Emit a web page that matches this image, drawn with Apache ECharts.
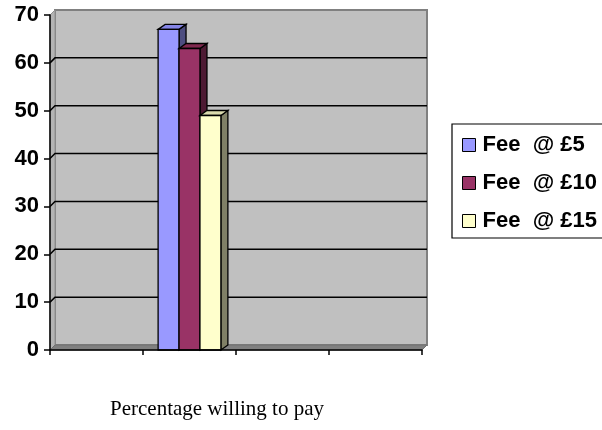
<!DOCTYPE html>
<html><head><meta charset="utf-8">
<script src="https://cdn.jsdelivr.net/npm/echarts@6/dist/echarts.min.js"></script>
<style>html,body{margin:0;padding:0;background:#fff}#c{width:602px;height:430px}</style>
</head><body><div id="c"></div>
<script>
const categories = ['', '', '', ''];
const seriesNames = ['Fee  @ £5', 'Fee  @ £10', 'Fee  @ £15'];
const fee5 = [null, 67, null, null];
const fee10 = [null, 63, null, null];
const fee15 = [null, 49, null, null];
const yTicks = [0, 10, 20, 30, 40, 50, 60, 70];
const axisTitle = 'Percentage willing to pay';

const colors = [
  {front: '#9999FF', top: '#8585E6', side: '#4D4D80'},
  {front: '#993366', top: '#80294F', side: '#4D1A33'},
  {front: '#FFFFCC', top: '#DADAAE', side: '#808066'}
];
const DX = 5, DY = -5;

function toPairs(arr) {
  const out = [];
  arr.forEach((v, i) => { if (v != null) out.push([i, v]); });
  return out;
}

function barRenderer(k) {
  const col = colors[k];
  return function (params, api) {
    const cat = api.value(0), v = api.value(1);
    const c = api.coord([cat, v]);
    const b = api.coord([cat, 0]);
    const bw = api.size([1, 0])[0] * 0.225;
    const x = c[0] + (k - 1.5) * bw;
    const dx = 7, dy = -5;
    const yT = c[1], yB = b[1];
    const st = {stroke: '#000', lineWidth: 1.3};
    return {type: 'group', children: [
      {type: 'polygon', shape: {points: [[x + bw, yT], [x + bw + dx, yT + dy], [x + bw + dx, yB + dy], [x + bw, yB]]}, style: Object.assign({fill: col.side}, st)},
      {type: 'polygon', shape: {points: [[x, yT], [x + dx, yT + dy], [x + bw + dx, yT + dy], [x + bw, yT]]}, style: Object.assign({fill: col.top}, st)},
      {type: 'rect', shape: {x: x, y: yT, width: bw, height: yB - yT}, style: Object.assign({fill: col.front}, st)}
    ]};
  };
}

function wallRenderer(params, api) {
  const cs = params.coordSys;
  const x0 = cs.x, y0 = cs.y, w = cs.width, h = cs.height;
  const children = [];
  children.push({type: 'rect', shape: {x: x0 + DX, y: y0 + DY, width: w, height: h}, style: {fill: '#C0C0C0', stroke: '#808080', lineWidth: 2}});
  children.push({type: 'polygon', shape: {points: [[x0, y0], [x0 + DX, y0 + DY], [x0 + DX, y0 + h + DY], [x0, y0 + h]]}, style: {fill: '#B4B4B4', stroke: '#909090', lineWidth: 1}});
  children.push({type: 'polygon', shape: {points: [[x0, y0 + h], [x0 + DX, y0 + h + DY], [x0 + w + DX, y0 + h + DY], [x0 + w, y0 + h]]}, style: {fill: '#808080', stroke: '#707070', lineWidth: 1}});
  yTicks.forEach(t => {
    if (t === yTicks[0] || t === yTicks[yTicks.length - 1]) return;
    const y = api.coord([0, t])[1];
    children.push({type: 'polyline', shape: {points: [[x0, y], [x0 + DX, y + DY], [x0 + w + DX, y + DY]]}, style: {stroke: '#000', lineWidth: 1.5, fill: null}});
  });
  return {type: 'group', children: children};
}

const chart = echarts.init(document.getElementById('c'), null, {renderer: 'canvas'});
const feeData = [fee5, fee10, fee15];
chart.setOption({
  animation: false,
  backgroundColor: '#fff',
  title: {
    text: axisTitle, left: 110, top: 399, padding: 0,
    textStyle: {fontFamily: 'Liberation Serif', fontWeight: 'normal', fontSize: 21, color: '#000'}
  },
  legend: {
    data: seriesNames, orient: 'vertical', left: 452, top: 124,
    padding: [9, 20, 5, 10], itemGap: 14, itemWidth: 13, itemHeight: 13, icon: 'rect',
    borderColor: '#000', borderWidth: 1.2,
    itemStyle: {borderColor: '#000', borderWidth: 1},
    textStyle: {fontFamily: 'Liberation Sans', fontWeight: 'bold', fontSize: 22, color: '#000', lineHeight: 24, padding: [0, 0, 0, 2]}
  },
  grid: {left: 50, top: 15, width: 372, height: 335, containLabel: false},
  xAxis: {
    type: 'category', data: categories, boundaryGap: true, z: 5,
    axisLine: {lineStyle: {color: '#000', width: 1.5}},
    axisTick: {show: true, length: 5, lineStyle: {color: '#000', width: 1.5}},
    axisLabel: {show: false}, splitLine: {show: false}
  },
  yAxis: {
    type: 'value', min: 0, max: 70, interval: 10, z: 5,
    axisLine: {show: true, lineStyle: {color: '#000', width: 1.5}},
    axisTick: {show: true, length: 6, lineStyle: {color: '#000', width: 1.5}},
    axisLabel: {fontFamily: 'Liberation Sans', fontWeight: 'bold', fontSize: 22, color: '#000', margin: 11},
    splitLine: {show: false}
  },
  series: [
    {type: 'custom', name: '_wall', z: 1, silent: true, renderItem: wallRenderer, data: [[0, 0]]}
  ].concat(feeData.map((arr, k) => ({
    type: 'custom', name: seriesNames[k], z: 3,
    itemStyle: {color: colors[k].front},
    renderItem: barRenderer(k),
    encode: {x: 0, y: 1},
    data: toPairs(arr)
  })))
});
</script>
</body></html>
